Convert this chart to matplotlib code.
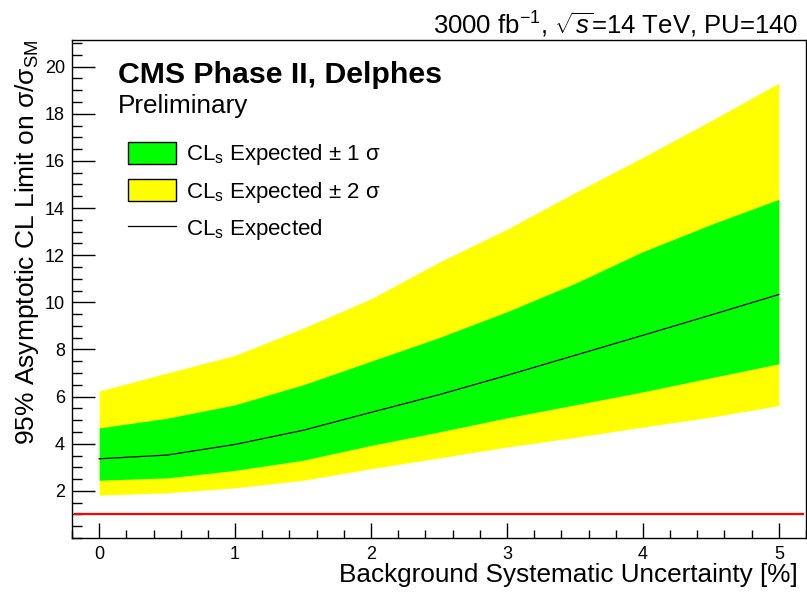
import matplotlib
matplotlib.use("Agg")
import matplotlib.pyplot as plt
from matplotlib.patches import Patch
from matplotlib.lines import Line2D
from matplotlib.ticker import MultipleLocator

plt.rcParams['font.family'] = ['Liberation Sans', 'DejaVu Sans']
plt.rcParams['mathtext.fontset'] = 'custom'
plt.rcParams['mathtext.rm'] = 'Liberation Sans'
plt.rcParams['mathtext.it'] = 'Liberation Sans:italic'
plt.rcParams['mathtext.sf'] = 'Liberation Sans'

# background systematic uncertainty [%]
syst = [0.0, 0.5, 1.0, 1.5, 2.0, 2.5, 3.0, 3.5, 4.0, 4.5, 5.0]
# expected limit and bands (sigma / sigma_SM)
expected = [3.36, 3.52, 3.97, 4.57, 5.33, 6.08, 6.90, 7.75, 8.60, 9.46, 10.33]
one_up = [4.67, 5.08, 5.65, 6.50, 7.50, 8.50, 9.60, 10.80, 12.15, 13.30, 14.37]
one_dn = [2.45, 2.55, 2.87, 3.30, 3.93, 4.50, 5.10, 5.65, 6.20, 6.80, 7.39]
two_up = [6.23, 7.00, 7.75, 8.90, 10.15, 11.70, 13.10, 14.65, 16.15, 17.70, 19.30]
two_dn = [1.82, 1.92, 2.13, 2.45, 2.94, 3.40, 3.86, 4.27, 4.71, 5.13, 5.62]
sm_ref = 1.0

fig = plt.figure(figsize=(8.07, 5.93), dpi=100)
ax = fig.add_axes([72/807, 1-538/593, 734/807, 498/593])

ax.fill_between(syst, two_dn, two_up, color='#ffff00', lw=0)
ax.fill_between(syst, one_dn, one_up, color='#00ff00', lw=0)
ax.plot(syst, expected, color='black', lw=0.9)
ax.axhline(sm_ref, xmin=0.004, xmax=0.996, color='#ff0000', lw=1.6)

ax.set_xlim(-0.2, 5.2)
ax.set_ylim(0, 21.13)
ax.xaxis.set_major_locator(MultipleLocator(1))
ax.xaxis.set_minor_locator(MultipleLocator(0.2))
ax.yaxis.set_minor_locator(MultipleLocator(0.5))
ax.set_yticks([2, 4, 6, 8, 10, 12, 14, 16, 18, 20])
ax.tick_params(axis='both', which='both', direction='in', top=False, right=False,
               labelsize=13, colors='black', width=1.0)
ax.tick_params(axis='y', which='major', length=16.5, pad=5)
ax.tick_params(axis='y', which='minor', length=7.2)
ax.tick_params(axis='x', which='major', length=10.8, pad=6)
ax.tick_params(axis='x', which='minor', length=5.5)
for s in ax.spines.values():
    s.set_linewidth(1.0)

ax.set_xlabel('Background Systematic Uncertainty [%]', fontsize=18.8, loc='right')
ax.xaxis.set_label_coords(0.989, -0.05)
ax.set_ylabel(r'95% Asymptotic CL Limit on σ/σ$_{\rm SM}$', fontsize=19, loc='top')
ax.yaxis.set_label_coords(-0.042, 1.0)

fig.text(798/807, 1-34/593, r'3000 fb$^{-1}$, $\sqrt{s}$=14 TeV, PU=140',
         fontsize=18.5, ha='right', va='baseline')
fig.text(118/807, 1-83/593, 'CMS Phase II, Delphes', fontsize=21.8, fontweight='bold',
         ha='left', va='baseline')
fig.text(118/807, 1-113/593, 'Preliminary', fontsize=18.8, ha='left', va='baseline')

handles = [
    Patch(facecolor='#00ff00', edgecolor='black', lw=1.0),
    Patch(facecolor='#ffff00', edgecolor='black', lw=1.0),
    Line2D([], [], color='black', lw=0.9),
]
labels = [r'CL$_{\rm s}$ Expected ± 1 σ',
          r'CL$_{\rm s}$ Expected ± 2 σ',
          r'CL$_{\rm s}$ Expected']
ax.legend(handles, labels, loc='upper left', bbox_to_anchor=(128/807, 1-141.5/593),
          bbox_transform=fig.transFigure, frameon=False, fontsize=16,
          borderpad=0, borderaxespad=0, handlelength=2.16, handleheight=1.17,
          labelspacing=0.53, handletextpad=0.45)

fig.savefig('out.png', dpi=100)
